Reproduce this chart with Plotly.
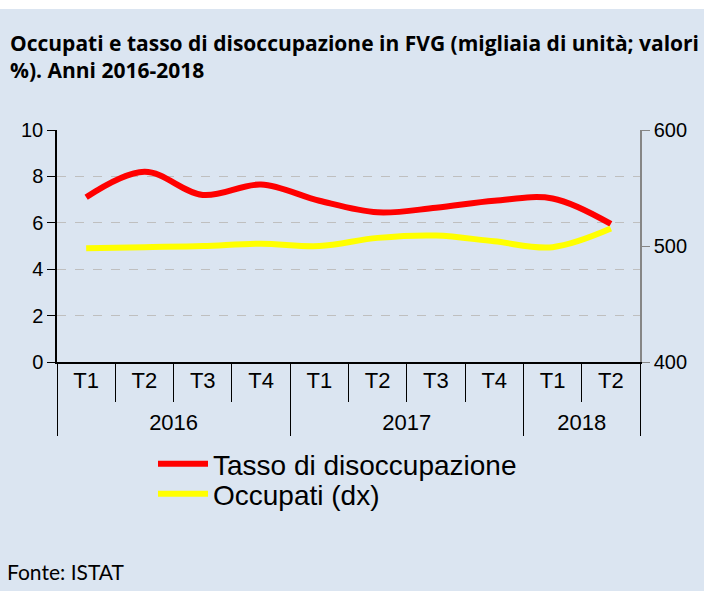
import plotly.graph_objects as go

years = ["2016"] * 4 + ["2017"] * 4 + ["2018"] * 2
quarters = ["T1", "T2", "T3", "T4", "T1", "T2", "T3", "T4", "T1", "T2"]
tasso = [7.1, 8.2, 7.2, 7.65, 6.95, 6.45, 6.65, 6.95, 7.05, 5.95]
occupati = [498, 499, 500, 502, 500, 507, 509, 504, 499, 515]

BG = "#dbe5f1"
W, H = 704, 591
L, R, T, B = 57, 64, 130, 229
pw, ph = W - L - R, H - T - B

big = "<span style='font-size:22px'>{}</span>"
qlabels = [big.format(q) + "<br><span style='font-size:8px'> </span>" for q in quarters]
ylabels = [big.format(y) for y in years]

fig = go.Figure()
fig.add_trace(go.Scatter(x=[ylabels, qlabels], y=tasso, name="Tasso di disoccupazione",
                         mode="lines", line=dict(color="#ff0000", width=6, shape="spline"),
                         legend="legend"))
fig.add_trace(go.Scatter(x=[ylabels, qlabels], y=occupati, name="Occupati (dx)", yaxis="y2",
                         mode="lines", line=dict(color="#ffff00", width=6, shape="spline"),
                         legend="legend2"))


def py(px):
    return -(px - (H - B)) / ph


leg_common = dict(xanchor="left", yanchor="top", bgcolor="rgba(0,0,0,0)",
                  font=dict(size=28), itemwidth=50)

fig.update_layout(
    width=W, height=H,
    margin=dict(l=L, r=R, t=T, b=B),
    paper_bgcolor="#ffffff", plot_bgcolor="rgba(0,0,0,0)",
    font=dict(family="Liberation Sans, Arial, sans-serif", size=20, color="#000"),
    title=dict(text="<b>Occupati e tasso di disoccupazione in FVG (migliaia di unità; valori<br>%). Anni 2016-2018</b>",
               x=10 / W, xref="container", xanchor="left", y=1 - 51 / H, yanchor="top", yref="container",
               font=dict(family="Open Sans, sans-serif", size=21, color="#000")),
    xaxis=dict(type="multicategory", range=[-0.5, 9.5], showline=True, linecolor="#000", linewidth=1.5,
               ticks="outside", tickson="boundaries", ticklen=38, tickcolor="#000",
               showdividers=True, dividercolor="#000", dividerwidth=1,
               tickfont=dict(size=17), ticklabelstandoff=4, showgrid=False),
    yaxis=dict(range=[0, 10], dtick=2, showline=True, linecolor="#000", linewidth=1.5,
               ticks="outside", ticklen=8, tickcolor="#000",
               showgrid=True, gridcolor="#bfbfbf", griddash="dash", gridwidth=1,
               zeroline=False, tickfont=dict(size=20)),
    yaxis2=dict(range=[400, 600], dtick=100, overlaying="y", side="right",
                showline=True, linecolor="#868686", linewidth=1.5,
                ticks="outside", ticklen=8, tickcolor="#868686",
                showgrid=False, zeroline=False, tickfont=dict(size=20)),
    legend=dict(x=(153 - L) / pw, y=py(439), **leg_common),
    legend2=dict(x=(153 - L) / pw, y=py(469), **leg_common),
    showlegend=True,
)

# light blue background below a thin white strip at the top
fig.add_shape(type="rect", xref="paper", yref="paper", x0=-L / pw - 0.05, x1=1 + R / pw + 0.05,
              y0=py(H + 20), y1=py(9), fillcolor=BG, line=dict(width=0), layer="below")

fig.add_annotation(text="Fonte: ISTAT", xref="paper", yref="paper", x=-(L - 5) / pw, xanchor="left",
                   y=py(571), yanchor="middle", showarrow=False,
                   font=dict(family="Lato, sans-serif", size=21, color="#000"))

fig.write_html("out.html", config={"responsive": False, "displayModeBar": False},
               post_script="document.body.style.margin='0';document.body.style.overflow='hidden';")
